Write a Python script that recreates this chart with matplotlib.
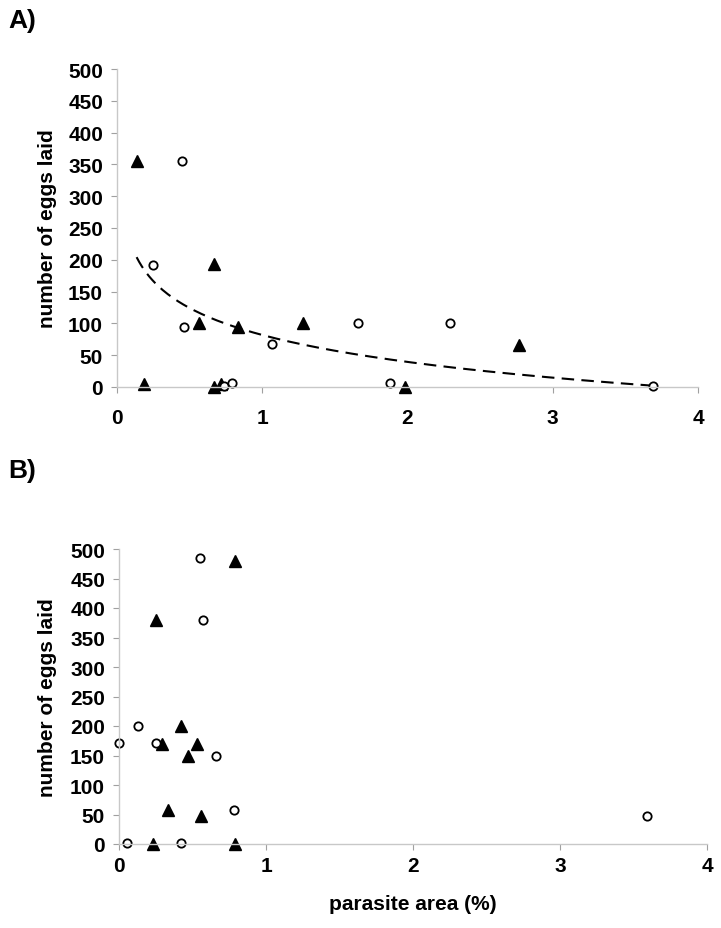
# egg laying vs parasite area, two panels
import numpy as np
import matplotlib
matplotlib.use("Agg")
from matplotlib import pyplot as plt

plt.rcParams['font.family'] = ['Liberation Sans', 'DejaVu Sans']
plt.rcParams['font.weight'] = 'bold'

# panel A
a_tri_x = [0.135, 0.186, 0.565, 0.666, 0.666, 0.714, 0.836, 1.283, 1.98, 2.77]
a_tri_y = [355, 5, 100, 193, 0, 5, 94, 100, 0, 66]
a_circ_x = [0.25, 0.45, 0.461, 0.74, 0.79, 1.07, 1.657, 1.88, 2.29, 3.69]
a_circ_y = [192, 355, 95, 1, 6, 68, 101, 6, 101, 1]

# logarithmic trend in panel A: y = a - b*ln(x)
trend_a = 81.8
trend_b = 61.1
trend_x_range = [0.135, 3.69]

# panel B
b_tri_x = [0.79, 0.25, 0.42, 0.29, 0.53, 0.47, 0.33, 0.56, 0.23, 0.79]
b_tri_y = [480, 380, 200, 170, 170, 150, 57, 47, 0, 0]
b_circ_x = [0.55, 0.57, 0.13, 0.0, 0.25, 0.66, 0.78, 3.59, 0.057, 0.42]
b_circ_y = [485, 380, 200, 172, 172, 150, 58, 48, 1, 1]

x_ticks = [0, 1, 2, 3, 4]
y_ticks = [0, 50, 100, 150, 200, 250, 300, 350, 400, 450, 500]

W, H = 721, 929
fig = plt.figure(figsize=(W / 100, H / 100), dpi=100)


def make_ax(left, right, top, bottom, xpad):
    ax = fig.add_axes([left / W, 1 - bottom / H, (right - left) / W, (bottom - top) / H])
    ax.set_xlim(0, 4)
    ax.set_ylim(0, 500)
    ax.set_xticks(x_ticks)
    ax.set_yticks(y_ticks)
    for s in ['top', 'right']:
        ax.spines[s].set_visible(False)
    for s in ['left', 'bottom']:
        ax.spines[s].set_color('#c8c8c8')
        ax.spines[s].set_linewidth(1.0)
    ax.tick_params(axis='both', direction='out', length=4, width=0.8, color='#a0a0a0',
                   labelsize=15, labelcolor='black')
    ax.tick_params(axis='x', pad=xpad)
    ax.tick_params(axis='y', pad=6)
    for lab in ax.get_xticklabels() + ax.get_yticklabels():
        lab.set_fontweight('bold')
    ax.set_ylabel("number of eggs laid", fontsize=15, fontweight='bold')
    # label centre sits about 47 px from the left edge of the figure
    ax.yaxis.set_label_coords((47 - left) / (right - left), 0.5)
    ax.yaxis.label.set_va('center')
    ax.patch.set_alpha(0)
    return ax


def scatter(ax, tx, ty, cx, cy):
    ax.plot(tx, ty, linestyle='none', marker='^', markersize=8.5, color='black', clip_on=False)
    ax.plot(cx, cy, linestyle='none', marker='o', markersize=6, markerfacecolor='white',
            markeredgecolor='black', markeredgewidth=1.3, clip_on=False)


axA = make_ax(117, 698, 70, 388, 11)
tx = np.linspace(trend_x_range[0], trend_x_range[1], 200)
axA.plot(tx, trend_a - trend_b * np.log(tx), color='black', linestyle=(0, (6, 3.5)), linewidth=1.5)
scatter(axA, a_tri_x, a_tri_y, a_circ_x, a_circ_y)

axB = make_ax(119, 707, 550, 845, 5)
scatter(axB, b_tri_x, b_tri_y, b_circ_x, b_circ_y)
axB.set_xlabel("parasite area (%)", fontsize=15, fontweight='bold', labelpad=13)

fig.text(8 / W, 1 - 21 / H, "A)", fontsize=19, fontweight='bold', va='center', ha='left')
fig.text(8 / W, 1 - 471 / H, "B)", fontsize=19, fontweight='bold', va='center', ha='left')

fig.savefig("out.png", dpi=100)
